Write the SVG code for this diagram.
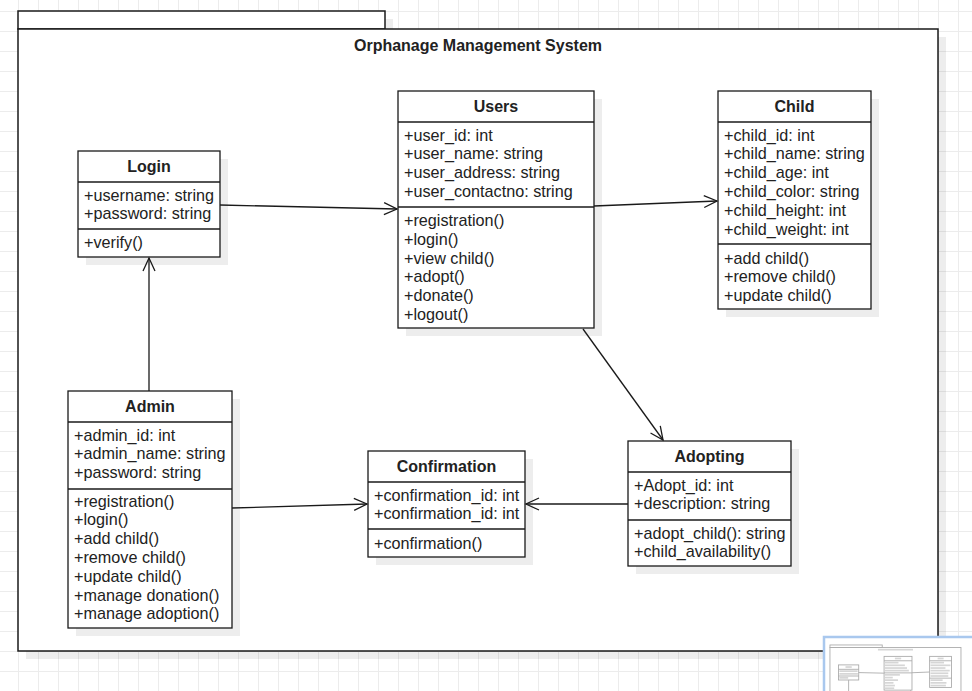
<svg xmlns="http://www.w3.org/2000/svg" width="972" height="691" viewBox="0 0 972 691">
<style>
.box{fill:#fff;stroke:#1a1a1a;stroke-width:1.3}
.div{stroke:#1a1a1a;stroke-width:1.3}
.sh{fill:#000;fill-opacity:0.07}
.t{font-family:"Liberation Sans",Arial,sans-serif;font-size:16.2px;fill:#222}
.h{font-family:"Liberation Sans",Arial,sans-serif;font-size:16px;font-weight:bold;fill:#222;text-anchor:middle}
.edge{fill:none;stroke:#1a1a1a;stroke-width:1.3}
.mm{fill:#fff;stroke:#a8a8a8;stroke-width:6}
.mml{stroke:#a8a8a8;stroke-width:6}
.mmt{fill:#d6d6d6}
</style>
<defs>
<pattern id="grid" patternUnits="userSpaceOnUse" x="18" y="11" width="20" height="20">
<rect x="0" y="0" width="20" height="1" fill="#ececec"/>
<rect x="0" y="0" width="1" height="20" fill="#ececec"/>
</pattern>
<marker id="open" markerUnits="userSpaceOnUse" markerWidth="18" markerHeight="16" refX="15" refY="8" orient="auto" viewBox="0 0 18 16">
<path d="M2,2 L15,8 L2,14" fill="none" stroke="#1a1a1a" stroke-width="1.3"/>
</marker>
</defs>
<rect width="972" height="691" fill="#fff"/>
<rect width="972" height="691" fill="url(#grid)"/>

<g id="frame">
<rect class="sh" x="26" y="19" width="367" height="18"/>
<rect class="sh" x="26" y="37" width="920" height="622"/>
<rect x="18" y="11" width="367" height="18" fill="#fff" stroke="#1a1a1a" stroke-width="1.5"/>
<rect x="18" y="29" width="920" height="622" fill="#fff" stroke="#1a1a1a" stroke-width="1.5"/>
<text class="h" x="478" y="50.5">Orphanage Management System</text>
</g>

<g id="login">
<rect class="sh" x="86" y="159" width="142" height="106"/>
<rect class="box" x="78" y="151" width="142" height="106"/>
<line class="div" x1="78" y1="182" x2="220" y2="182"/>
<line class="div" x1="78" y1="229" x2="220" y2="229"/>
<text class="h" x="149" y="171.5">Login</text>
<text class="t" x="84" y="200.5">+username: string</text>
<text class="t" x="84" y="219.3">+password: string</text>
<text class="t" x="84" y="247.5">+verify()</text>
</g>

<g id="users">
<rect class="sh" x="406" y="99" width="196" height="237"/>
<rect class="box" x="398" y="91" width="196" height="237"/>
<line class="div" x1="398" y1="122" x2="594" y2="122"/>
<line class="div" x1="398" y1="207" x2="594" y2="207"/>
<text class="h" x="496" y="111.5">Users</text>
<text class="t" x="404" y="140.5">+user_id: int</text>
<text class="t" x="404" y="159.3">+user_name: string</text>
<text class="t" x="404" y="178.1">+user_address: string</text>
<text class="t" x="404" y="196.9">+user_contactno: string</text>
<text class="t" x="404" y="226">+registration()</text>
<text class="t" x="404" y="244.8">+login()</text>
<text class="t" x="404" y="263.6">+view child()</text>
<text class="t" x="404" y="282.4">+adopt()</text>
<text class="t" x="404" y="301.2">+donate()</text>
<text class="t" x="404" y="320">+logout()</text>
</g>

<g id="child">
<rect class="sh" x="726" y="99" width="153" height="218"/>
<rect class="box" x="718" y="91" width="153" height="218"/>
<line class="div" x1="718" y1="122" x2="871" y2="122"/>
<line class="div" x1="718" y1="244" x2="871" y2="244"/>
<text class="h" x="794.5" y="111.5">Child</text>
<text class="t" x="724" y="140.5">+child_id: int</text>
<text class="t" x="724" y="159.3">+child_name: string</text>
<text class="t" x="724" y="178.1">+child_age: int</text>
<text class="t" x="724" y="196.9">+child_color: string</text>
<text class="t" x="724" y="215.7">+child_height: int</text>
<text class="t" x="724" y="234.5">+child_weight: int</text>
<text class="t" x="724" y="263.5">+add child()</text>
<text class="t" x="724" y="282.3">+remove child()</text>
<text class="t" x="724" y="301.1">+update child()</text>
</g>

<g id="admin">
<rect class="sh" x="76" y="399" width="164" height="237"/>
<rect class="box" x="68" y="391" width="164" height="237"/>
<line class="div" x1="68" y1="422" x2="232" y2="422"/>
<line class="div" x1="68" y1="489" x2="232" y2="489"/>
<text class="h" x="150" y="411.5">Admin</text>
<text class="t" x="74" y="440.5">+admin_id: int</text>
<text class="t" x="74" y="459.3">+admin_name: string</text>
<text class="t" x="74" y="478.1">+password: string</text>
<text class="t" x="74" y="506.5">+registration()</text>
<text class="t" x="74" y="525.3">+login()</text>
<text class="t" x="74" y="544.1">+add child()</text>
<text class="t" x="74" y="562.9">+remove child()</text>
<text class="t" x="74" y="581.7">+update child()</text>
<text class="t" x="74" y="600.5">+manage donation()</text>
<text class="t" x="74" y="619.3">+manage adoption()</text>
</g>

<g id="confirmation">
<rect class="sh" x="376" y="459" width="157" height="106"/>
<rect class="box" x="368" y="451" width="157" height="106"/>
<line class="div" x1="368" y1="482" x2="525" y2="482"/>
<line class="div" x1="368" y1="529" x2="525" y2="529"/>
<text class="h" x="446.5" y="471.5">Confirmation</text>
<text class="t" x="374" y="500.5">+confirmation_id: int</text>
<text class="t" x="374" y="519.3">+confirmation_id: int</text>
<text class="t" x="374" y="548.5">+confirmation()</text>
</g>

<g id="adopting">
<rect class="sh" x="636" y="449" width="163" height="125"/>
<rect class="box" x="628" y="441" width="163" height="125"/>
<line class="div" x1="628" y1="472" x2="791" y2="472"/>
<line class="div" x1="628" y1="520" x2="791" y2="520"/>
<text class="h" x="709.5" y="461.5">Adopting</text>
<text class="t" x="634" y="490.5">+Adopt_id: int</text>
<text class="t" x="634" y="509.3">+description: string</text>
<text class="t" x="634" y="538.5">+adopt_child(): string</text>
<text class="t" x="634" y="557.3">+child_availability()</text>
</g>

<g id="connectors">
<path class="edge" d="M220,205 L397,209" marker-end="url(#open)"/>
<path class="edge" d="M594,206 L717,201" marker-end="url(#open)"/>
<path class="edge" d="M583,329 L663,440" marker-end="url(#open)"/>
<path class="edge" d="M149,391 L149,258" marker-end="url(#open)"/>
<path class="edge" d="M232,508 L367,504" marker-end="url(#open)"/>
<path class="edge" d="M628,504 L526,504" marker-end="url(#open)"/>
</g>

<g id="minimap">
<rect x="824" y="637" width="160" height="70" fill="#fff" stroke="#a9c8ee" stroke-width="2.5"/>
<g transform="translate(827.4,643.4) scale(0.1424)">
<rect class="mm" x="18" y="11" width="367" height="18"/>
<rect class="mm" x="18" y="29" width="920" height="622"/>
<rect class="mmt" x="355" y="38" width="246" height="12"/>
<rect class="mm" x="78" y="151" width="142" height="106"/>
<line class="mml" x1="78" y1="182" x2="220" y2="182"/>
<line class="mml" x1="78" y1="229" x2="220" y2="229"/>
<rect class="mmt" x="127" y="160" width="44" height="12"/>
<rect class="mmt" x="84" y="189" width="128" height="12"/>
<rect class="mmt" x="84" y="208" width="130" height="12"/>
<rect class="mmt" x="84" y="236" width="62" height="12"/>
<rect class="mm" x="398" y="91" width="196" height="237"/>
<line class="mml" x1="398" y1="122" x2="594" y2="122"/>
<line class="mml" x1="398" y1="207" x2="594" y2="207"/>
<rect class="mmt" x="474" y="100" width="44" height="12"/>
<rect class="mmt" x="404" y="129" width="95" height="12"/>
<rect class="mmt" x="404" y="148" width="140" height="12"/>
<rect class="mmt" x="404" y="167" width="155" height="12"/>
<rect class="mmt" x="404" y="185" width="168" height="12"/>
<rect class="mmt" x="404" y="215" width="105" height="12"/>
<rect class="mmt" x="404" y="234" width="55" height="12"/>
<rect class="mmt" x="404" y="252" width="92" height="12"/>
<rect class="mmt" x="404" y="271" width="60" height="12"/>
<rect class="mmt" x="404" y="290" width="70" height="12"/>
<rect class="mmt" x="404" y="309" width="65" height="12"/>
<rect class="mm" x="718" y="91" width="153" height="218"/>
<line class="mml" x1="718" y1="122" x2="871" y2="122"/>
<line class="mml" x1="718" y1="244" x2="871" y2="244"/>
<rect class="mmt" x="774" y="100" width="42" height="12"/>
<rect class="mmt" x="724" y="129" width="95" height="12"/>
<rect class="mmt" x="724" y="148" width="140" height="12"/>
<rect class="mmt" x="724" y="167" width="105" height="12"/>
<rect class="mmt" x="724" y="185" width="135" height="12"/>
<rect class="mmt" x="724" y="204" width="125" height="12"/>
<rect class="mmt" x="724" y="223" width="125" height="12"/>
<rect class="mmt" x="724" y="252" width="85" height="12"/>
<rect class="mmt" x="724" y="271" width="112" height="12"/>
<rect class="mmt" x="724" y="290" width="108" height="12"/>
<line class="mml" x1="220" y1="205" x2="397" y2="209"/>
<line class="mml" x1="594" y1="206" x2="717" y2="201"/>
<line class="mml" x1="583" y1="329" x2="663" y2="440"/>
<line class="mml" x1="149" y1="391" x2="149" y2="258"/>
</g>
</g>
</svg>
